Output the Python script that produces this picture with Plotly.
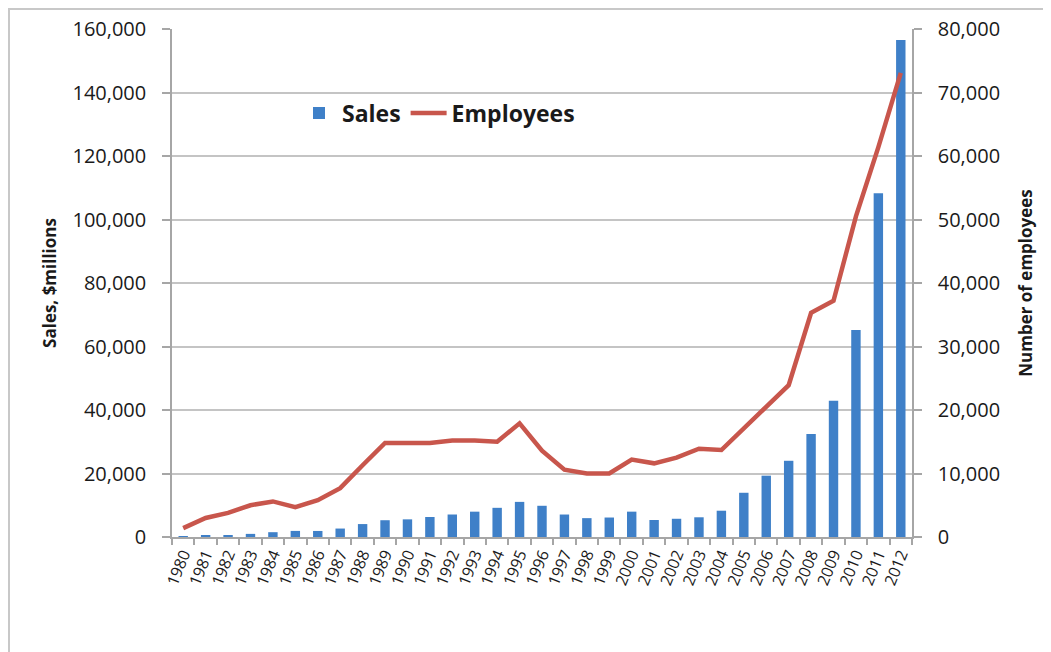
import plotly.graph_objects as go

years = [str(y) for y in range(1980, 2013)]
sales = [117, 334, 583, 983, 1516, 1918, 1902, 2661, 4071, 5284, 5558, 6309,
         7087, 7977, 9189, 11062, 9833, 7081, 5941, 6134, 7983, 5363, 5742,
         6207, 8279, 13931, 19315, 24006, 32479, 42905, 65225, 108249, 156508]
employees = [1400, 3000, 3800, 5000, 5600, 4700, 5800, 7700, 11300, 14800,
             14800, 14800, 15200, 15200, 15000, 17900, 13600, 10600, 10000,
             10000, 12200, 11600, 12500, 13900, 13700, 17100, 20700, 23900,
             35300, 37200, 50500, 61400, 73100]

left_ticks = [0, 20000, 40000, 60000, 80000, 100000, 120000, 140000, 160000]
right_ticks = [0, 10000, 20000, 30000, 40000, 50000, 60000, 70000, 80000]

FONT = "Open Sans"
TXT = "#1a1a1a"

W, H = 1043, 644
ML, MR, MT, MB = 164, 139, 21, 115
PW = W - ML - MR
PH = H - MT - MB

fig = go.Figure()
fig.add_trace(go.Bar(
    x=years, y=sales, name="Sales",
    marker=dict(color="#3f80c8", line=dict(width=0)),
    width=0.42, yaxis="y",
))
fig.add_trace(go.Scatter(
    x=years, y=employees, name="Employees", mode="lines",
    line=dict(color="#c8564c", width=4.5),
    yaxis="y2",
))

fig.update_layout(
    width=W, height=H,
    margin=dict(l=ML, r=MR, t=MT, b=MB, autoexpand=False),
    paper_bgcolor="white", plot_bgcolor="white",
    showlegend=True,
    legend=dict(orientation="h", x=(296 - 8 - ML) / PW, y=(529 - 105) / PH,
                xanchor="left", yanchor="middle", bgcolor="rgba(0,0,0,0)",
                font=dict(family=FONT, size=23, color=TXT, weight="bold"),
                itemwidth=36, tracegroupgap=0),
    xaxis=dict(
        type="category", showgrid=False, showline=True,
        linecolor="#a6a6a6", linewidth=1.5,
        ticks="outside", tickson="boundaries", ticklen=6,
        tickcolor="#a6a6a6", tickwidth=1.5,
        tickangle=-68,
        tickfont=dict(family=FONT, size=16, color=TXT),
    ),
    yaxis=dict(
        range=[0, 160000], tickvals=left_ticks,
        tickformat=",d", showgrid=True, gridcolor="#c4c4c4", gridwidth=1.5,
        showline=True, linecolor="#a6a6a6", linewidth=1.5,
        ticks="outside", ticklen=8, tickcolor="#a6a6a6", tickwidth=1.5,
        ticklabelstandoff=12,
        tickfont=dict(family=FONT, size=20, color=TXT),
        zeroline=False,
        title=dict(text="Sales, $millions", standoff=12,
                   font=dict(family=FONT, size=17, color=TXT, weight="bold")),
    ),
    yaxis2=dict(
        range=[0, 80000], tickvals=right_ticks, overlaying="y", side="right",
        tickformat=",d", showgrid=False,
        showline=True, linecolor="#a6a6a6", linewidth=1.5,
        ticks="outside", ticklen=8, tickcolor="#a6a6a6", tickwidth=1.5,
        ticklabelstandoff=12,
        tickfont=dict(family=FONT, size=20, color=TXT),
        zeroline=False,
        title=dict(text="Number of employees", standoff=21,
                   font=dict(family=FONT, size=17, color=TXT, weight="bold")),
    ),
)

# outer frame of the chart (top and left edges visible)
fig.add_shape(type="rect", xref="paper", yref="paper",
              x0=(1 - ML) / PW, x1=1.5, y0=-0.5, y1=1 + (MT - 1) / PH,
              line=dict(color="#c8c8c8", width=2), fillcolor="rgba(0,0,0,0)",
              layer="below")

fig.write_html("out.html")
